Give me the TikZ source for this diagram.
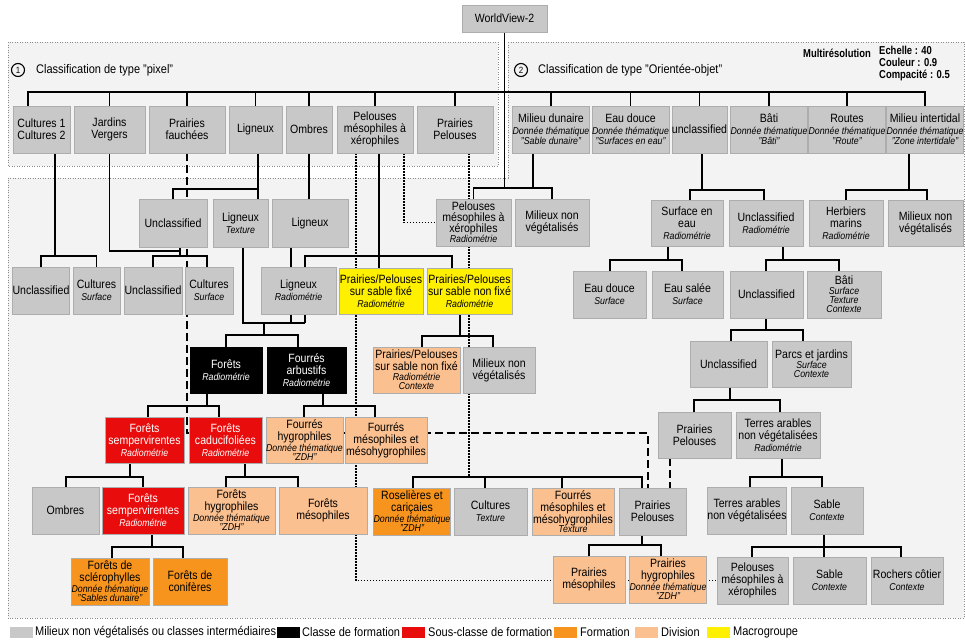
\documentclass[tikz,border=0pt]{standalone}
\usepackage{fontspec}
\setmainfont{Liberation Sans}[FakeStretch=0.88]
\newfontfamily\narrowfam{Liberation Sans}[FakeStretch=0.82]
\definecolor{boxgray}{RGB}{200,200,200}
\definecolor{boxred}{RGB}{232,12,12}
\definecolor{boxorange}{RGB}{247,148,30}
\definecolor{boxlight}{RGB}{250,192,144}
\definecolor{boxyellow}{RGB}{255,240,0}
\definecolor{regfill}{RGB}{243,243,243}
\pgfdeclarelayer{bgzero}
\pgfdeclarelayer{lines}
\pgfsetlayers{bgzero,lines,main}
\newcommand\sbt[1]{{\fontsize{10}{10}\selectfont\itshape #1}}
\newcommand\bx[7]{\node[#1, minimum width={(#4-#3)*1pt}, minimum height={(#6-#5)*1pt}] (#2) at ({(#3+#4)/2},{(#5+#6)/2}) {#7};}
\begin{document}
\begin{tikzpicture}[x=1pt,y=-1pt,
  box/.style={rectangle, draw=black!32, line width=0.6pt, inner sep=0pt, align=center, font=\fontsize{12}{12}\selectfont},
  gbox/.style={box, fill=boxgray},
  kbox/.style={box, fill=black, draw=black, text=white},
  rbox/.style={box, fill=boxred, text=white},
  obox/.style={box, fill=boxorange},
  lbox/.style={box, fill=boxlight},
  ybox/.style={box, fill=boxyellow},
  conn/.style={line width=1.9pt, black},
  dl/.style={conn, dash pattern=on 8pt off 4pt},
  dotl/.style={line width=1.7pt, black, dash pattern=on 1.5pt off 1.5pt},
  region/.style={fill=regfill, draw=black!45, line width=0.7pt, dash pattern=on 1pt off 1.5pt},
  swatch/.style={rectangle, inner sep=0pt, minimum width=23pt, minimum height=11pt},
  legtxt/.style={anchor=west, inner sep=0pt, font=\fontsize{12.5}{12.5}\selectfont},
  numc/.style={circle, draw, line width=1.1pt, inner sep=0pt, minimum size=13pt, font=\fontsize{9}{9}\selectfont},
  ttl/.style={anchor=west, inner sep=0pt, font=\fontsize{12.5}{12.5}\selectfont},
  mrs/.style={inner sep=0pt, font=\narrowfam\bfseries\fontsize{11.5}{12.2}\selectfont}
]
\useasboundingbox (0,0) rectangle (965,643);

% background and regions
\begin{pgfonlayer}{bgzero}
\fill[white] (0,0) rectangle (965,643);
\path[region] (8,42) rectangle (498,166);
\path[region] (508,42) -- (964,42) -- (964,618) -- (8,618) -- (8,178) -- (508,178) -- cycle;
\end{pgfonlayer}

% titles
\node[numc] (n1) at (18,70) {1};
\node[ttl] (t1) at (36,70) {Classification de type "pixel"};
\node[numc] (n2) at (521,70) {2};
\node[ttl] (t2) at (538,70) {Classification de type "Orientée-objet"};
\node[mrs, anchor=base east] (mr0) at (871,57) {Multirésolution};
\node[mrs, anchor=north west, align=left] (mr1) at (879,46) {Echelle : 40\\Couleur : 0.9\\Compacité : 0.5};

% top
\bx{gbox}{wv}{462}{547}{5}{32}{WorldView-2}

% row 1
\bx{gbox}{c12}{13}{70}{106}{153}{Cultures 1\\Cultures 2}
\bx{gbox}{jv}{74}{145}{106}{153}{Jardins\\Vergers}
\bx{gbox}{pf}{149}{225}{106}{153}{Prairies\\fauchées}
\bx{gbox}{lig}{229}{282}{106}{153}{Ligneux}
\bx{gbox}{omb}{286}{332}{106}{153}{Ombres}
\bx{gbox}{pmx}{337}{413}{106}{153}{Pelouses\\mésophiles à\\xérophiles}
\bx{gbox}{pp}{417}{493}{106}{153}{Prairies\\Pelouses}
\bx{gbox}{md}{513}{589}{106}{153}{Milieu dunaire\\\sbt{Donnée thématique}\\[-2pt]\sbt{"Sable dunaire"}}
\bx{gbox}{ed}{593}{668}{106}{153}{Eau douce\\\sbt{Donnée thématique}\\[-2pt]\sbt{"Surfaces en eau"}}
\bx{gbox}{uncl}{672}{727}{106}{153}{unclassified}
\bx{gbox}{bati}{731}{807}{106}{153}{Bâti\\\sbt{Donnée thématique}\\[-2pt]\sbt{"Bâti"}}
\bx{gbox}{routes}{810}{884}{106}{153}{Routes\\\sbt{Donnée thématique}\\[-2pt]\sbt{"Route"}}
\bx{gbox}{mi}{887}{963}{106}{153}{Milieu intertidal\\\sbt{Donnée thématique}\\[-2pt]\sbt{"Zone intertidale"}}

% row 2
\bx{gbox}{u1}{139}{207}{199}{247}{Unclassified}
\bx{gbox}{lt}{213}{268}{199}{247}{Ligneux\\\sbt{Texture}}
\bx{gbox}{l2}{272}{348}{199}{247}{Ligneux}
\bx{gbox}{pmxR}{436}{511}{199}{246}{Pelouses\\[-1pt]mésophiles à\\[-1pt]xérophiles\\[-2pt]\sbt{Radiométrie}}
\bx{gbox}{mnv1}{515}{589}{199}{246}{Milieux non\\végétalisés}
\bx{gbox}{sea}{651}{723}{200}{246}{Surface en\\eau\\\sbt{Radiométrie}}
\bx{gbox}{ur}{729}{803}{200}{246}{Unclassified\\\sbt{Radiométrie}}
\bx{gbox}{hm}{809}{883}{200}{246}{Herbiers\\marins\\\sbt{Radiométrie}}
\bx{gbox}{mnv2}{888}{963}{200}{246}{Milieux non\\végétalisés}

% row 3
\bx{gbox}{u3a}{13}{69}{267}{314}{Unclassified}
\bx{gbox}{cs1}{73}{120}{267}{314}{Cultures\\\sbt{Surface}}
\bx{gbox}{u3b}{124}{182}{267}{314}{Unclassified}
\bx{gbox}{cs2}{185}{233}{267}{314}{Cultures\\\sbt{Surface}}
\bx{gbox}{lr}{261}{336}{267}{314}{Ligneux\\\sbt{Radiométrie}}
\bx{ybox}{ypf}{339}{423}{268}{314}{Prairies/Pelouses\\sur sable fixé\\\sbt{Radiométrie}}
\bx{ybox}{ypn}{427}{512}{268}{314}{Prairies/Pelouses\\sur sable non fixé\\\sbt{Radiométrie}}
\bx{gbox}{eds}{573}{646}{271}{318}{Eau douce\\\sbt{Surface}}
\bx{gbox}{esal}{652}{723}{271}{318}{Eau salée\\\sbt{Surface}}
\bx{gbox}{u3c}{730}{803}{271}{318}{Unclassified}
\bx{gbox}{bsc}{807}{881}{271}{318}{Bâti\\[-2pt]\sbt{Surface}\\[-3pt]\sbt{Texture}\\[-3pt]\sbt{Contexte}}

% row 4
\bx{kbox}{fr}{190}{262}{347}{393}{Forêts\\\sbt{Radiométrie}}
\bx{kbox}{fa}{267}{346}{347}{393}{Fourrés\\arbustifs\\\sbt{Radiométrie}}
\bx{lbox}{ppnf}{373}{460}{347}{393}{Prairies/Pelouses\\sur sable non fixé\\[-2pt]\sbt{Radiométrie}\\[-3pt]\sbt{Contexte}}
\bx{gbox}{mnv3}{463}{535}{347}{393}{Milieux non\\végétalisés}
\bx{gbox}{u4}{690}{767}{341}{387}{Unclassified}
\bx{gbox}{pj}{772}{851}{341}{387}{Parcs et jardins\\[-2pt]\sbt{Surface}\\[-3pt]\sbt{Contexte}}

% row 5
\bx{rbox}{fs1}{105}{184}{417}{463}{Forêts\\sempervirentes\\\sbt{Radiométrie}}
\bx{rbox}{fc}{189}{262}{417}{463}{Forêts\\caducifoliées\\\sbt{Radiométrie}}
\bx{lbox}{fh}{267}{342}{417}{463}{Fourrés\\hygrophiles\\[-1pt]\sbt{Donnée thématique}\\[-3pt]\sbt{"ZDH"}}
\bx{lbox}{fm}{345}{427}{417}{463}{Fourrés\\mésophiles et\\mésohygrophiles}
\bx{gbox}{pp5}{658}{731}{412}{458}{Prairies\\Pelouses}
\bx{gbox}{ta5}{736}{820}{412}{458}{Terres arables\\non végétalisées\\\sbt{Radiométrie}}

% row 6
\bx{gbox}{omb6}{32}{99}{487}{534}{Ombres}
\bx{rbox}{fs2}{102}{184}{487}{534}{Forêts\\sempervirentes\\\sbt{Radiométrie}}
\bx{lbox}{fhy}{188}{275}{487}{534}{Forêts\\hygrophiles\\[-1pt]\sbt{Donnée thématique}\\[-3pt]\sbt{"ZDH"}}
\bx{lbox}{fme}{279}{367}{487}{534}{Forêts\\mésophiles}
\bx{obox}{ros}{374}{450}{488}{535}{Roselières et\\cariçaies\\[-1pt]\sbt{Donnée thématique}\\[-3pt]\sbt{"ZDH"}}
\bx{gbox}{cult}{454}{527}{488}{535}{Cultures\\\sbt{Texture}}
\bx{lbox}{fmm}{532}{614}{488}{535}{Fourrés\\mésophiles et\\mésohygrophiles\\[-3pt]\sbt{Texture}}
\bx{gbox}{pp6}{619}{686}{488}{535}{Prairies\\Pelouses}
\bx{gbox}{ta6}{708}{786}{487}{534}{Terres arables\\non végétalisées}
\bx{gbox}{sab6}{791}{863}{487}{534}{Sable\\\sbt{Contexte}}

% row 7
\bx{obox}{fsc}{71}{149}{558}{605}{Forêts de\\sclérophylles\\[-1pt]\sbt{Donnée thématique}\\[-3pt]\sbt{"Sables dunaire"}}
\bx{obox}{fco}{153}{227}{558}{605}{Forêts de\\conifères}
\bx{lbox}{pme}{553}{625}{556}{603}{Prairies\\mésophiles}
\bx{lbox}{phy}{630}{706}{556}{603}{Prairies\\hygrophiles\\[-1pt]\sbt{Donnée thématique}\\[-3pt]\sbt{"ZDH"}}
\bx{gbox}{pmx7}{717}{788}{557}{604}{Pelouses\\mésophiles à\\xérophiles}
\bx{gbox}{sab7}{793}{866}{557}{604}{Sable\\\sbt{Contexte}}
\bx{gbox}{roc}{871}{943}{557}{604}{Rochers côtier\\\sbt{Contexte}}

% connectors
\begin{pgfonlayer}{lines}
\begin{scope}[conn]
% top bus
\draw (c12.north -| 28,0) |- (mi.north |- 0,92) -- (mi.north);
\foreach \n in {jv,pf,lig,omb,pmx,pp,md,ed,uncl,bati,routes}
  \draw (\n.north) -- (\n.north |- 0,92);
\draw (wv.south) -- (wv.south |- 0,188);
\draw (pmxR.north) |- (mnv1.north |- 0,188) -- (mnv1.north);
\draw (md.south -| 533,0) -- (533,188);
% pixel branch
\draw (omb.south) -- (omb.south |- l2.north);
\draw (lig.south -| 258,0) -- (258,189);
\draw (u1.north) |- (258,189) -- (lt.north -| 258,0);
\draw (c12.south -| 55,0) -- (55,256);
\draw (u3a.north) |- (cs1.north |- 0,256) -- (cs1.north);
\draw (jv.south) |- (180,251);
\draw (u1.south -| 180,0) -- (180,256);
\draw (u3b.north) |- (207,256) -- (cs2.north -| 207,0);
\draw (lt.south -| 243,0) |- (305,323);
\draw (l2.south -| 291,0) -- (291,323);
\draw (pmx.south -| 379,0) -- (ypf.north -| 379,0);
\draw (305,323) -- (305,256) -| (ypn.north -| 452,0);
\draw (264,323) -- (264,335);
\draw (fr.north) |- (298,335) -- (fa.north -| 298,0);
\draw (ypn.south -| 460,0) -- (460,336);
\draw (ppnf.north -| 422,0) |- (493,336) -- (mnv3.north -| 493,0);
\draw (fr.south -| 207,0) -- (207,406);
\draw (fs1.north -| 148,0) |- (219,406) -- (fc.north -| 219,0);
\draw (fa.south -| 323,0) -- (323,406);
\draw (fh.north -| 304,0) |- (375,406) -- (fm.north -| 375,0);
\draw (fs1.south -| 130,0) -- (130,477);
\draw (omb6.north -| 66,0) |- (143,477) -- (fs2.north -| 143,0);
\draw (fc.south -| 245,0) -- (245,477);
\draw (fhy.north -| 226,0) |- (298,477) -- (fme.north -| 298,0);
\draw (fs2.south -| 152,0) -- (152,547);
\draw (fsc.north -| 112,0) |- (183,547) -- (fco.north -| 183,0);
\draw (ros.north -| 413,0) |- (642,477) -- (pp6.north -| 642,0);
\draw (cult.north -| 485,0) -- (485,477);
\draw (fmm.north -| 562,0) -- (562,477);
\draw (pp6.south -| 642,0) -- (642,545);
\draw (pme.north -| 589,0) |- (661,545) -- (phy.north -| 661,0);
% object branch
\draw (uncl.south -| 702,0) -- (702,190);
\draw (sea.north -| 690,0) |- (764,190) -- (ur.north -| 764,0);
\draw (mi.south -| 909,0) -- (909,190);
\draw (hm.north -| 846,0) |- (927,190) -- (mnv2.north -| 927,0);
\draw (sea.south -| 668,0) -- (668,260);
\draw (eds.north -| 610,0) |- (682,260) -- (esal.north -| 682,0);
\draw (ur.south -| 783,0) -- (783,260);
\draw (u3c.north -| 766,0) |- (839,260) -- (bsc.north -| 839,0);
\draw (u3c.south -| 766,0) -- (766,330);
\draw (u4.north -| 731,0) |- (803,330) -- (pj.north -| 803,0);
\draw (u4.south -| 730,0) -- (730,400);
\draw (pp5.north -| 694,0) |- (780,400) -- (ta5.north -| 780,0);
\draw (ta5.south -| 782,0) -- (782,477);
\draw (ta6.north -| 750,0) |- (822,477) -- (sab6.north -| 822,0);
\draw (sab6.south -| 824,0) -- (824,547);
\draw (pmx7.north -| 752,0) |- (901,547) -- (roc.north -| 901,0);
\draw (sab7.north -| 824,0) -- (824,547);
\end{scope}
% dashed
\draw[dl] (pf.south) |- (648,433) -- (pp6.north -| 648,0);
\draw[dl] (pp5.south -| 670,0) -- (pp6.north -| 670,0);
% dotted
\draw[dotl] (pmx.south -| 404,0) |- (pmxR.west);
\draw[dotl] (pmx.south -| 356,0) |- (pmx7.west);
\draw[dotl] (pp.south -| 469,0) -- (469,477);
\end{pgfonlayer}

% legend
\node[swatch, fill=boxgray] (sw1) at (21,632) {};
\node[legtxt] (lg1) at (35,632) {Milieux non végétalisés ou classes intermédiaires};
\node[swatch, fill=black] (sw2) at (288.5,632) {};
\node[legtxt] (lg2) at (302,632) {Classe de formation};
\node[swatch, fill=boxred] (sw3) at (413.5,632) {};
\node[legtxt] (lg3) at (428,632) {Sous-classe de formation};
\node[swatch, fill=boxorange] (sw4) at (565.5,632) {};
\node[legtxt] (lg4) at (580,632) {Formation};
\node[swatch, fill=boxlight] (sw5) at (646.5,632) {};
\node[legtxt] (lg5) at (661,632) {Division};
\node[swatch, fill=boxyellow] (sw6) at (718.5,632) {};
\node[legtxt] (lg6) at (733,632) {Macrogroupe};
\end{tikzpicture}
\end{document}
